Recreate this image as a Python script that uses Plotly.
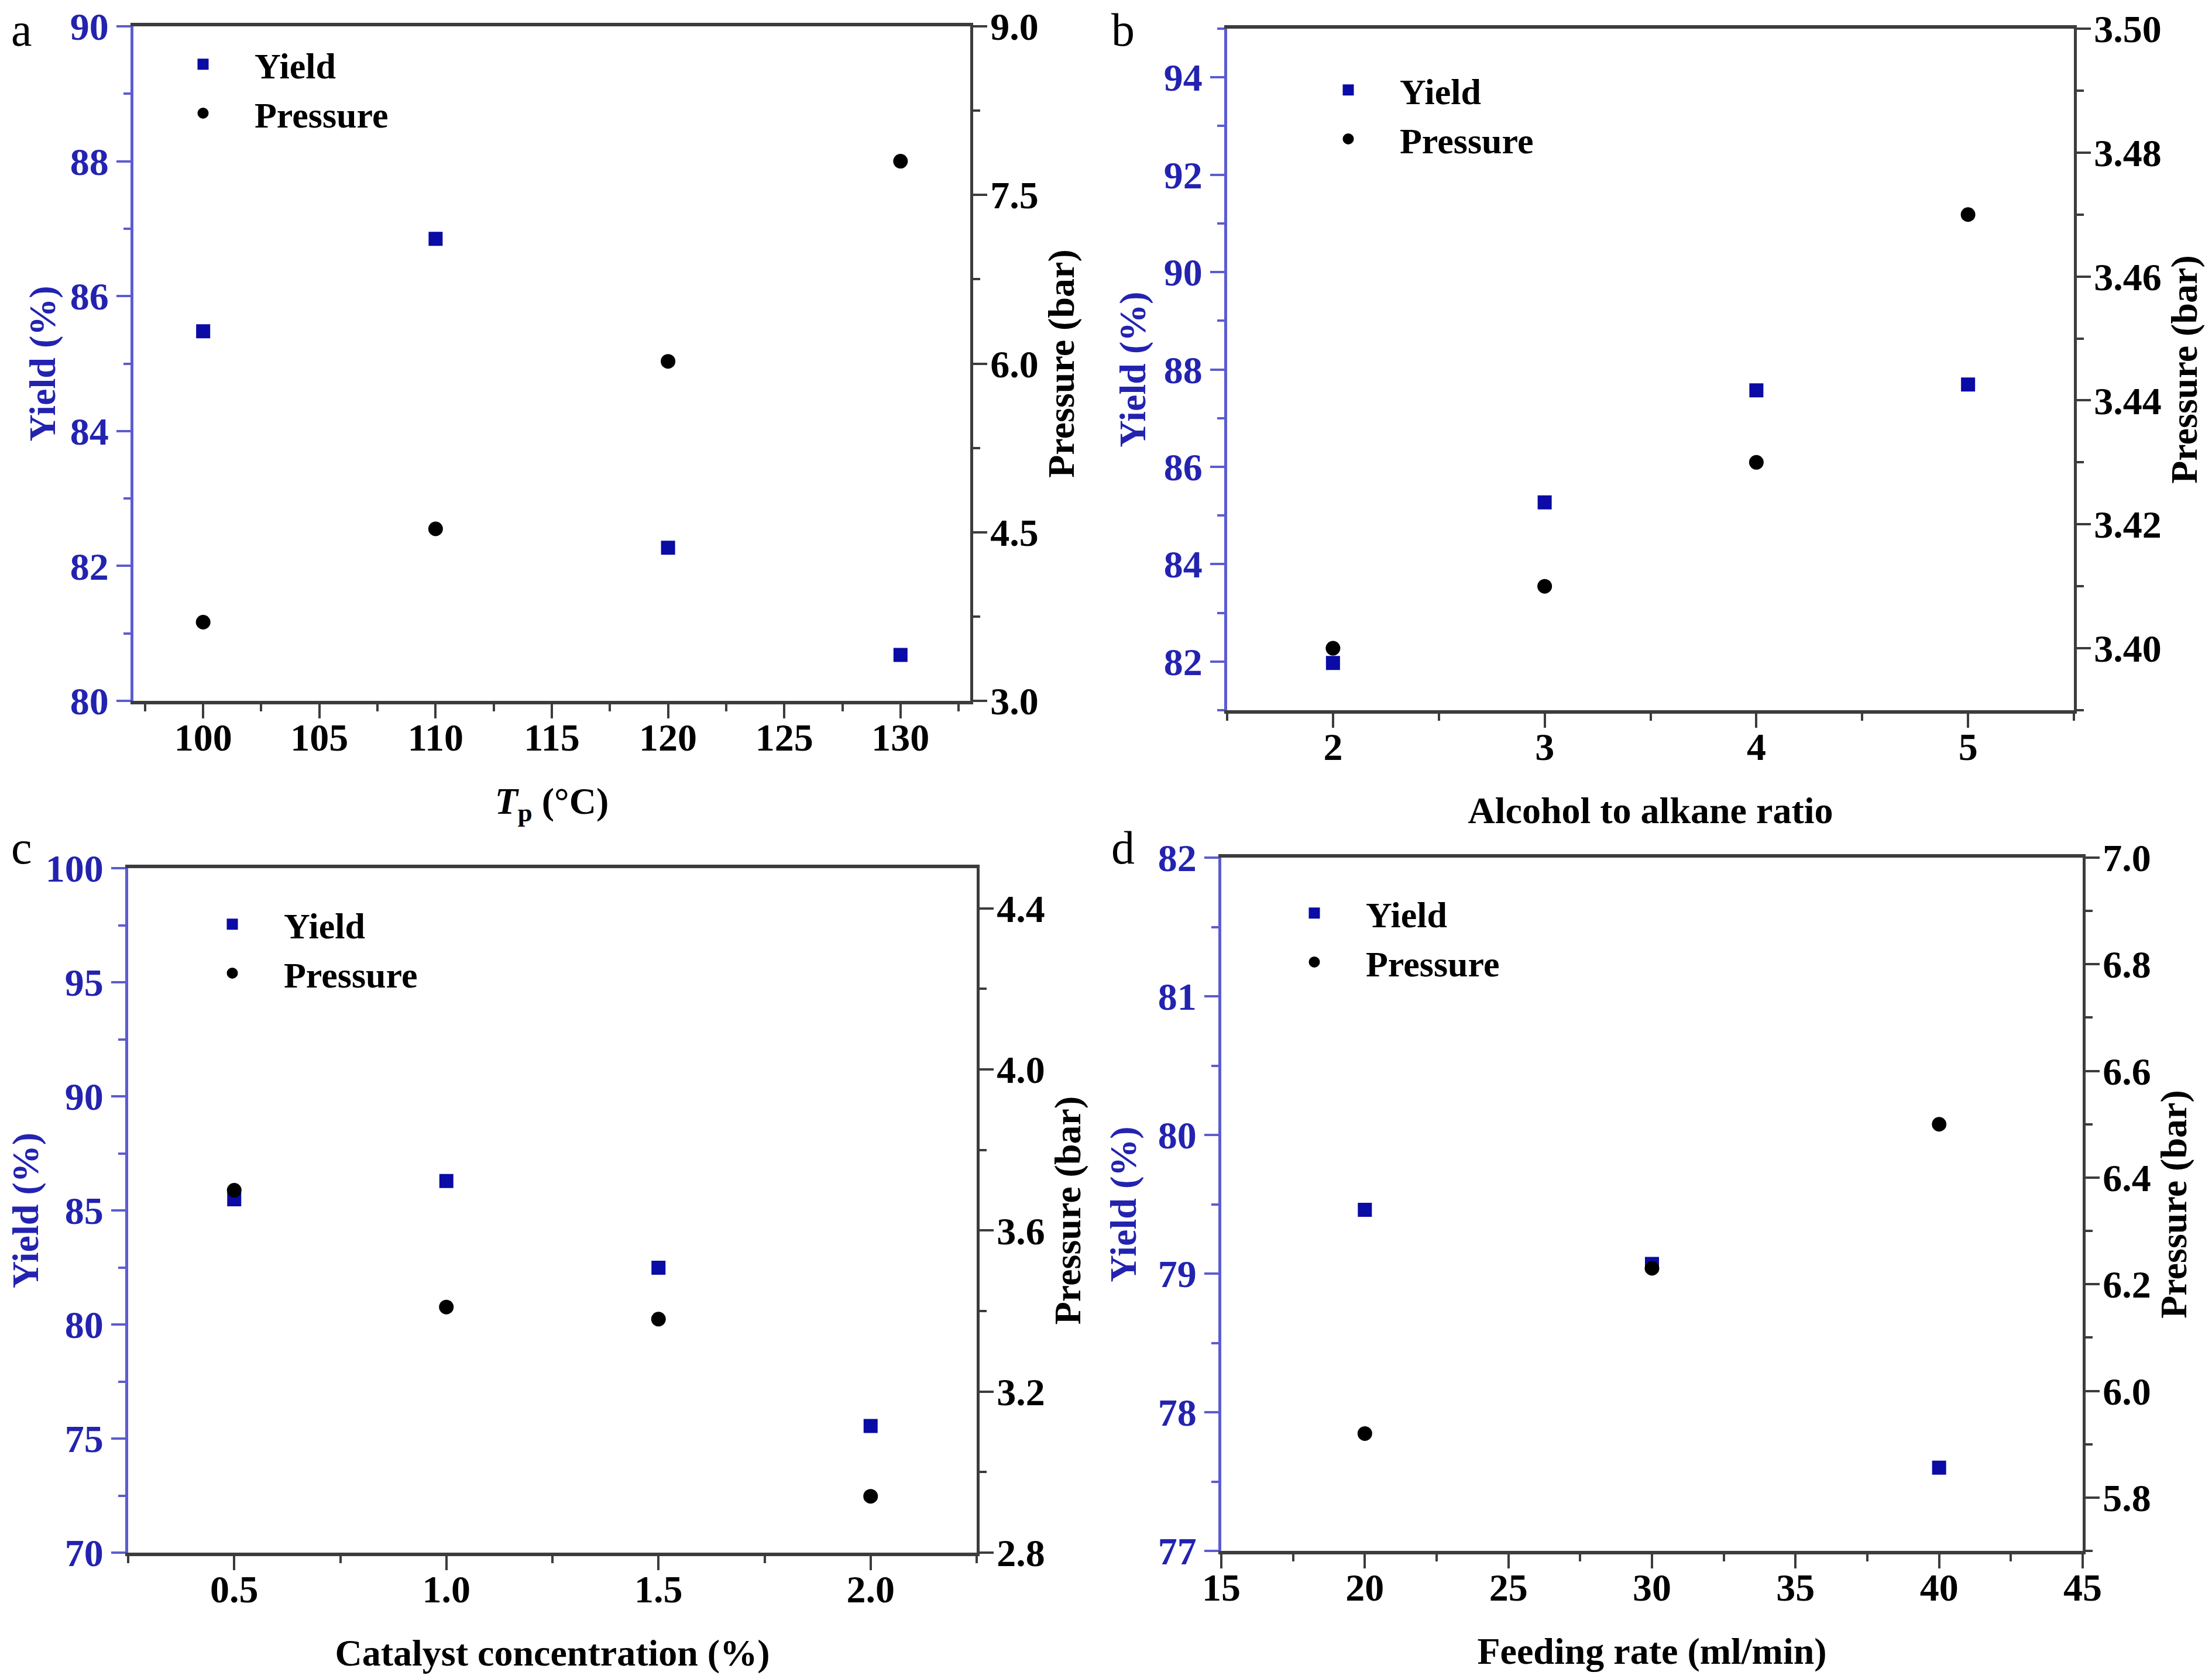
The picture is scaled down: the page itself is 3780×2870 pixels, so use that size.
import plotly.graph_objects as go

# ---- data ----
temp_x = [100, 110, 120, 130]
temp_yield = [85.48, 86.85, 82.27, 80.68]
temp_pressure = [3.70, 4.53, 6.02, 7.80]

ratio_x = [2, 3, 4, 5]
ratio_yield = [81.97, 85.27, 87.57, 87.69]
ratio_pressure = [3.400, 3.410, 3.430, 3.470]

cat_x = [0.5, 1.0, 1.5, 2.0]
cat_yield = [85.49, 86.29, 82.49, 75.55]
cat_pressure = [3.70, 3.41, 3.38, 2.94]

feed_x = [20, 30, 40]
feed_yield = [79.46, 79.07, 77.60]
feed_pressure = [5.92, 6.23, 6.50]

panel_letters = ['a', 'b', 'c', 'd']
x_titles = ['<i>T</i><sub>p</sub> (°C)', 'Alcohol to alkane ratio',
            'Catalyst concentration (%)', 'Feeding rate (ml/min)']

W, H = 3780, 2870
FONT = 'Liberation Serif'
BLUE_MARK = '#0b0ba6'
BLUE_TEXT = '#2323b0'
BLUE_LINE = '#5c5cd0'
DARK = '#3c3c3c'

# plot areas in pixels: left, right, top, bottom
boxes = [(220, 1650, 37, 1190),
         (2089, 3536, 41, 1206),
         (211, 1661, 1476, 2646),
         (2079, 3551, 1458, 2643)]

# where the panel letters sit (px)
letter_pos = [(29, 43), (1911, 43), (29, 1441), (1911, 1441)]

# gap between left tick labels and the Yield title, per panel
yield_standoff = [6, 12, 18, 18]

# axis setup per panel: x range / dtick / minor, left y, right y
x_axes = [dict(range=[97, 133], tick0=100, dtick=5, minor=2.5, fmt=''),
          dict(range=[1.5, 5.5], tick0=2, dtick=1, minor=0.5, fmt=''),
          dict(range=[0.25, 2.25], tick0=0.5, dtick=0.5, minor=0.25, fmt='.1f'),
          dict(range=[15, 45], tick0=15, dtick=5, minor=2.5, fmt='')]
yl_axes = [dict(range=[80, 90], tick0=80, dtick=2, minor=1, fmt=''),
           dict(range=[81, 95], tick0=82, dtick=2, minor=1, fmt=''),
           dict(range=[70, 100], tick0=70, dtick=5, minor=2.5, fmt=''),
           dict(range=[77, 82], tick0=77, dtick=1, minor=0.5, fmt='')]
yr_axes = [dict(range=[3.0, 9.0], tick0=3.0, dtick=1.5, minor=0.75, fmt='.1f'),
           dict(range=[3.39, 3.50], tick0=3.40, dtick=0.02, minor=0.01, fmt='.2f'),
           dict(range=[2.8, 4.5], tick0=2.8, dtick=0.4, minor=0.2, fmt='.1f'),
           dict(range=[5.7, 7.0], tick0=5.8, dtick=0.2, minor=0.1, fmt='.1f')]

# legend marker centres (px) for each panel
legend_pos = [(345, 113), (2302, 157), (395, 1583), (2244, 1564)]

series = [(temp_x, temp_yield, temp_pressure),
          (ratio_x, ratio_yield, ratio_pressure),
          (cat_x, cat_yield, cat_pressure),
          (feed_x, feed_yield, feed_pressure)]

fig = go.Figure()
layout = {}
annotations = []

for i, (xs, ys_yield, ys_press) in enumerate(series):
    n = i + 1
    xname = 'x' if n == 1 else 'x%d' % n
    yl = 2 * i + 1
    yr = 2 * i + 2
    ylname = 'y' if yl == 1 else 'y%d' % yl
    yrname = 'y%d' % yr
    leg = 'legend' if n == 1 else 'legend%d' % n

    fig.add_trace(go.Scatter(x=xs, y=ys_yield, mode='markers', name='Yield',
                             xaxis=xname, yaxis=ylname, legend=leg,
                             marker=dict(symbol='square', size=21, color=BLUE_MARK,
                                         line=dict(width=3, color=BLUE_MARK))))
    fig.add_trace(go.Scatter(x=xs, y=ys_press, mode='markers', name='Pressure',
                             xaxis=xname, yaxis=yrname, legend=leg,
                             marker=dict(symbol='circle', size=22, color='black',
                                         line=dict(width=3, color='black'))))

    l, r, t, b = boxes[i]
    xdom = [l / W, r / W]
    ydom = [1 - b / H, 1 - t / H]
    xa, ya, yb = x_axes[i], yl_axes[i], yr_axes[i]

    layout['xaxis' if n == 1 else 'xaxis%d' % n] = dict(
        domain=xdom, anchor=ylname, range=xa['range'], automargin=False,
        tickmode='linear', tick0=xa['tick0'], dtick=xa['dtick'], tickformat=xa['fmt'],
        ticks='outside', ticklen=24, tickwidth=4, tickcolor=DARK, ticklabelstandoff=-24,
        minor=dict(dtick=xa['minor'], tick0=xa['tick0'], ticks='outside',
                   ticklen=12, tickwidth=4, tickcolor=DARK),
        showline=True, linecolor=DARK, linewidth=6, mirror=True,
        showgrid=False, zeroline=False,
        tickfont=dict(family=FONT, size=66, color='black', weight='bold'),
        title=dict(text=x_titles[i], standoff=52,
                   font=dict(family=FONT, size=64, color='black', weight='bold')))

    layout['yaxis' if yl == 1 else 'yaxis%d' % yl] = dict(
        domain=ydom, anchor=xname, range=ya['range'], automargin=False,
        tickmode='linear', tick0=ya['tick0'], dtick=ya['dtick'], tickformat=ya['fmt'],
        ticks='outside', ticklen=24, tickwidth=4, tickcolor=BLUE_LINE,
        minor=dict(dtick=ya['minor'], tick0=ya['tick0'], ticks='outside',
                   ticklen=12, tickwidth=4, tickcolor=BLUE_LINE),
        showline=True, linecolor=BLUE_LINE, linewidth=5,
        showgrid=False, zeroline=False,
        tickfont=dict(family=FONT, size=66, color=BLUE_TEXT, weight='bold'),
        title=dict(text='Yield (%)', standoff=yield_standoff[i],
                   font=dict(family=FONT, size=64, color=BLUE_TEXT, weight='bold')))

    layout['yaxis%d' % yr] = dict(
        domain=ydom, anchor=xname, overlaying=ylname, side='right', range=yb['range'],
        automargin=False,
        tickmode='linear', tick0=yb['tick0'], dtick=yb['dtick'], tickformat=yb['fmt'],
        ticks='outside', ticklen=24, tickwidth=4, tickcolor=DARK, ticklabelstandoff=-8,
        minor=dict(dtick=yb['minor'], tick0=yb['tick0'], ticks='outside',
                   ticklen=12, tickwidth=4, tickcolor=DARK),
        showline=True, linecolor=DARK, linewidth=5,
        showgrid=False, zeroline=False,
        tickfont=dict(family=FONT, size=66, color='black', weight='bold'),
        title=dict(text='Pressure (bar)', standoff=18,
                   font=dict(family=FONT, size=64, color='black', weight='bold')))

    mx, my = legend_pos[i]
    layout[leg] = dict(x=(mx - 94) / W, y=1 - (my - 58) / H, xanchor='left', yanchor='top',
                       bgcolor='rgba(0,0,0,0)', itemwidth=166, tracegroupgap=0,
                       font=dict(family=FONT, size=62, color='black', weight='bold'))

    # panel letter
    lx, ly = letter_pos[i]
    annotations.append(dict(text=panel_letters[i], xref='paper', yref='paper',
                            x=lx / W, y=1 - ly / H, xanchor='center', yanchor='middle',
                            showarrow=False, font=dict(family=FONT, size=80, color='black')))

fig.update_layout(**layout)
fig.update_layout(width=W, height=H, margin=dict(l=0, r=0, t=0, b=0, autoexpand=False),
                  paper_bgcolor='white', plot_bgcolor='white',
                  showlegend=True, annotations=annotations)

fig.write_html('out.html')
